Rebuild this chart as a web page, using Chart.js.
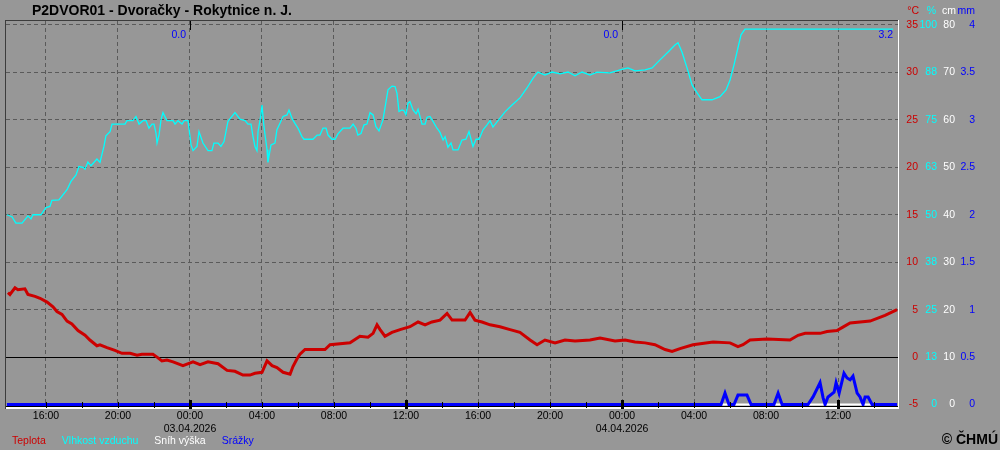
<!DOCTYPE html>
<html>
<head>
<meta charset="utf-8">
<script src="https://cdn.jsdelivr.net/npm/chart.js@4.4.1/dist/chart.umd.min.js"></script>
<style>
  html, body { margin:0; padding:0; background:#979797; overflow:hidden; }
  #wrap { position:relative; width:1000px; height:450px; }
</style>
</head>
<body>
<div id="wrap"><canvas id="chart"></canvas></div>
<script>
const stationTitle = 'P2DVOR01 - Dvoračky - Rokytnice n. J.';
const seriesNames = ['Teplota', 'Vlhkost vzduchu', 'Sníh výška', 'Srážky'];
const unitLabels = ['°C', '%', 'cm', 'mm'];

// time = hours counted from 02.04.2026 00:00
const tempHours = [13.89,14.0,14.28,14.44,14.83,15.0,15.39,15.67,16.06,16.39,16.61,16.89,17.17,17.44,17.78,18.17,18.44,18.83,19.0,19.39,19.83,20.22,20.67,21.06,21.33,21.94,22.17,22.44,22.72,23.06,23.61,24.17,24.56,25.0,25.56,26.06,26.5,26.94,27.33,27.61,28.0,28.28,28.56,28.83,29.17,29.56,29.72,29.94,30.11,30.39,31.5,31.78,32.89,33.44,33.89,34.17,34.39,34.56,34.83,35.22,35.67,36.22,36.67,37.06,37.44,37.89,38.28,38.56,39.28,39.56,39.83,40.22,40.67,41.22,41.78,42.33,42.89,43.28,43.72,44.28,44.83,45.39,46.22,46.78,47.61,48.17,48.72,49.28,49.83,50.39,50.78,51.22,51.94,53.06,54.0,54.44,54.72,55.11,56.06,57.33,57.78,58.17,59.0,59.39,59.94,60.22,60.67,61.78,62.61,63.28];
const tempValues = [6.8,6.6,7.3,7.1,7.2,6.6,6.4,6.2,5.8,5.3,4.8,4.5,3.8,3.5,2.8,2.3,1.8,1.2,1.3,1.0,0.7,0.4,0.4,0.2,0.3,0.3,0.0,-0.4,-0.3,-0.5,-0.9,-0.5,-0.8,-0.5,-0.7,-1.4,-1.5,-1.9,-1.9,-1.7,-1.6,-0.4,-0.9,-1.1,-1.6,-1.8,-1.0,-0.2,0.3,0.8,0.8,1.3,1.5,2.2,2.1,2.5,3.4,2.9,2.2,2.6,2.9,3.2,3.7,3.4,3.7,3.9,4.6,3.9,3.9,4.7,3.9,3.7,3.4,3.2,2.9,2.6,1.8,1.3,1.8,1.5,1.8,1.7,1.8,2.0,1.7,1.8,1.6,1.5,1.3,0.8,0.6,0.9,1.3,1.6,1.5,1.1,1.3,1.8,1.9,1.8,2.3,2.5,2.5,2.7,2.8,3.1,3.6,3.8,4.4,5.0];

const humHours = [13.83,14.11,14.33,14.67,15.0,15.17,15.28,15.72,16.0,16.22,16.33,16.72,17.17,17.39,17.67,17.83,18.06,18.17,18.33,18.5,18.83,19.0,19.22,19.33,19.56,19.67,20.39,20.5,20.83,21.0,21.17,21.39,21.56,21.72,21.89,22.0,22.11,22.17,22.28,22.39,22.5,22.72,23.06,23.17,23.33,23.56,23.67,23.89,24.06,24.17,24.39,24.5,24.72,25.0,25.22,25.33,25.56,25.72,25.89,26.11,26.33,26.5,26.78,27.06,27.22,27.39,27.5,27.61,27.72,27.78,27.94,28.0,28.11,28.28,28.33,28.5,28.72,28.83,29.0,29.17,29.39,29.5,29.67,29.83,30.0,30.22,30.33,30.83,31.06,31.22,31.39,31.56,31.67,31.89,32.06,32.22,32.5,32.89,33.06,33.22,33.33,33.5,33.67,33.83,34.0,34.17,34.33,34.5,34.72,34.89,35.0,35.22,35.39,35.5,35.61,35.78,35.89,36.0,36.11,36.22,36.39,36.56,36.67,36.89,37.06,37.17,37.33,37.5,37.72,37.89,38.06,38.17,38.33,38.5,38.61,38.89,39.11,39.33,39.5,39.72,39.89,40.06,40.28,40.5,40.67,40.83,41.11,41.5,41.89,42.33,42.72,43.06,43.33,43.72,44.11,44.56,45.0,45.39,45.78,46.22,46.61,47.33,47.89,48.33,48.72,49.28,49.67,50.11,50.56,50.94,51.11,51.33,51.61,51.89,52.17,52.44,53.0,53.44,53.78,54.0,54.22,54.44,54.61,54.83,63.06];
const humValues = [50,49.5,47.8,47.8,49.7,48.9,50,50,51.9,52.2,53.8,53.9,56.6,58.8,60.5,62.7,62.5,62,63.9,62.9,64.7,63.8,68,70.8,71.9,73.9,73.9,74.8,74.8,75.9,73.9,74.8,74.8,72.8,73.9,73.9,71.6,68.9,71,75,76.9,74.8,74.8,73.9,74.8,73.9,74.8,74.8,68.4,66.9,68,71.9,68.9,66.9,66.9,68.9,68.9,68,69.3,74.6,75.9,76.9,75.2,74.8,73.9,73.9,70.6,68,66.9,71.9,76.3,78.9,73.2,67.1,63.8,68.4,68.9,72.4,74.1,75.9,76.3,77.6,75.4,74.1,72.8,70.6,69.9,69.9,71,71,72.8,72.8,71,69.9,69.9,71.3,72.8,72.8,73.9,72.8,71,71.4,73.7,73.9,76.9,76.3,73.2,72.1,75,79.8,82.9,83.9,83.8,82,77.2,77.6,77.4,76.3,79.4,79.8,77.6,76.6,77.8,73.9,73.9,75.7,75.9,74.6,72.8,71.7,69.7,70.6,67.8,68.9,67.1,67.1,69.7,69.9,71.9,68,69.9,69.9,72.4,73.7,74.8,73.1,74.8,77.1,78.9,80.8,83.4,86,87.6,86.8,87.6,87.1,87.6,86.6,87.6,86.8,87.6,87.4,88.2,88.7,87.9,88.2,88.7,90.8,92.9,94.7,95.3,92.9,88.7,84.2,82.1,80.3,80.3,81.1,82.9,85.5,89.5,94,97.4,98.9,98.9];

const snowHours = [13.83, 63.28];
const snowValues = [0, 0];

const rainHours = [13.83,53.5,53.72,53.94,54.22,54.44,54.94,55.17,56.44,56.67,56.89,58.33,58.61,59.0,59.17,59.28,59.44,59.78,59.89,60.06,60.33,60.5,60.67,60.83,61.06,61.22,61.39,61.5,61.67,61.89,63.28];
const rainValues = [0,0,0.12,0,0,0.1,0.1,0,0,0.12,0,0,0.08,0.23,0.07,0,0.08,0.13,0.23,0.12,0.33,0.28,0.26,0.3,0.12,0.08,0,0.08,0.08,0,0];

// axis ticks
const tempTicks = [-5, 0, 5, 10, 15, 20, 25, 30, 35];
const humTicks = [0, 12.5, 25, 37.5, 50, 62.5, 75, 87.5, 100];
const snowTicks = [0, 10, 20, 30, 40, 50, 60, 70, 80];
const rainTicks = [0, 0.5, 1, 1.5, 2, 2.5, 3, 3.5, 4];
const timeTickHours = [16,18,20,22,24,26,28,30,32,34,36,38,40,42,44,46,48,50,52,54,56,58,60,62];
const dayStartHours = [24, 48];
const dayLabels = ['03.04.2026', '04.04.2026'];
const dailySumHours = [24, 48, 63.33];
const dailySums = ['0.0', '0.0', '3.2'];

const colors = ['#cc0000', '#00ffff', '#ffffff', '#0000ff'];
const FONT = '"Liberation Sans", Arial, sans-serif';

// temperature axis range; the other axes are scaled to share its pixels
const tMin = -5.47, tMax = 35.42;

function pts(hours, values){
  return hours.map((h, i) => ({ x: h, y: values[i] }));
}
function hhmm(v){
  const h = ((v % 24) + 24) % 24;
  return (h < 10 ? '0' : '') + h + ':00';
}
function setTicks(list){
  return s => { s.ticks = list.map(v => ({ value: v })); };
}

function rightAxis(color, min, max, list, width, fmt){
  return {
    position: 'right',
    min, max, bounds: 'data',
    grid: { display: false },
    border: { display: false },
    afterBuildTicks: setTicks(list),
    ticks: {
      color, padding: 0, crossAlign: 'far',
      font: { family: FONT, size: 10.5 },
      callback: fmt || (v => String(v))
    },
    afterFit: s => { s.width = width; }
  };
}

const overlay = {
  id: 'overlay',
  beforeDatasetsDraw(chart){
    const { ctx, chartArea: a, scales } = chart;
    const y0 = Math.round(scales.y.getPixelForValue(0)) + 0.5;
    ctx.save();
    ctx.strokeStyle = '#000';
    ctx.lineWidth = 1;
    ctx.beginPath(); ctx.moveTo(a.left, y0); ctx.lineTo(a.right, y0); ctx.stroke();
    ctx.restore();
  },
  afterDatasetsDraw(chart){
    const { ctx, chartArea: a, scales } = chart;
    const xs = scales.x;
    ctx.save();
    // frame
    ctx.fillStyle = '#000';
    ctx.fillRect(a.left, a.bottom - 3, a.right - a.left, 1);
    ctx.fillStyle = '#ffffff';
    ctx.fillRect(a.left, a.bottom - 2, a.right - a.left, 2);
    ctx.fillRect(a.right, a.top - 1, 1, a.bottom - a.top + 1);
    ctx.fillStyle = '#3c3c3c';
    ctx.fillRect(a.left - 1, a.top - 1, a.right - a.left + 1, 1);
    ctx.fillRect(a.left - 1, a.top - 1, 1, a.bottom - a.top + 1);
    // time ticks along the bottom
    ctx.fillStyle = '#000';
    timeTickHours.forEach(h => {
      const x = Math.round(xs.getPixelForValue(h));
      if (h % 12 === 0) ctx.fillRect(x - 1, a.bottom - 9, 3, 9);
      else ctx.fillRect(x, a.bottom - 7, 1, 6);
    });
    dayStartHours.forEach(h => {
      const x = Math.round(xs.getPixelForValue(h));
      ctx.fillRect(x, a.top, 1, 9);
    });
    // daily precipitation sums
    ctx.font = '10.5px ' + FONT;
    ctx.fillStyle = '#0000ff';
    ctx.textAlign = 'right';
    ctx.textBaseline = 'middle';
    dailySumHours.forEach((h, i) => {
      const x = Math.min(xs.getPixelForValue(h), a.right - 1) - 4;
      ctx.fillText(dailySums[i], x, a.top + 14);
    });
    ctx.restore();
  },
  afterDraw(chart){
    const { ctx } = chart;
    ctx.save();
    ctx.textBaseline = 'middle';
    // title
    ctx.font = 'bold 14px ' + FONT;
    ctx.fillStyle = '#000';
    ctx.textAlign = 'left';
    ctx.fillText(stationTitle, 32, 11);
    // unit headers
    ctx.font = '10.5px ' + FONT;
    const unitRight = [919, 936, 956, 975];
    ctx.textAlign = 'right';
    unitLabels.forEach((u, i) => {
      ctx.fillStyle = colors[i];
      ctx.fillText(u, unitRight[i], 11);
    });
    // legend
    ctx.textAlign = 'left';
    let lx = 12;
    chart.data.datasets.forEach(ds => {
      ctx.fillStyle = ds.borderColor;
      ctx.fillText(ds.label, lx, 441);
      lx += ctx.measureText(ds.label).width + 16;
    });
    // copyright
    ctx.font = 'bold 14px ' + FONT;
    ctx.fillStyle = '#000';
    ctx.textAlign = 'right';
    ctx.fillText('© ČHMÚ', 998, 440);
    ctx.restore();
  }
};

new Chart(document.getElementById('chart'), {
  type: 'line',
  data: {
    datasets: [
      { label: seriesNames[0], data: pts(tempHours, tempValues), yAxisID: 'y',
        borderColor: colors[0], borderWidth: 3, order: 1 },
      { label: seriesNames[1], data: pts(humHours, humValues), yAxisID: 'yHum',
        borderColor: colors[1], borderWidth: 1.3, order: 2 },
      { label: seriesNames[2], data: pts(snowHours, snowValues), yAxisID: 'ySnow',
        borderColor: colors[2], borderWidth: 2, order: 3 },
      { label: seriesNames[3], data: pts(rainHours, rainValues), yAxisID: 'yRain',
        borderColor: colors[3], borderWidth: 3, order: 0 }
    ]
  },
  options: {
    responsive: true,
    maintainAspectRatio: false,
    animation: false,
    layout: { padding: { left: 6, top: 21, right: 25, bottom: 16 } },
    elements: { point: { radius: 0 }, line: { tension: 0, fill: false } },
    plugins: { legend: { display: false }, tooltip: { enabled: false } },
    scales: {
      x: {
        type: 'linear', position: 'bottom',
        min: 13.78, max: 63.33, bounds: 'data',
        afterBuildTicks: setTicks(timeTickHours),
        grid: {
          drawTicks: false,
          color: c => (c.tick && c.tick.value % 4 === 0) ? '#5a5a5a' : 'rgba(0,0,0,0)'
        },
        border: { display: false, dash: [4, 3] },
        ticks: {
          autoSkip: false, maxRotation: 0,
          color: '#000', padding: 1,
          font: { family: FONT, size: 10.5, lineHeight: 1.24 },
          callback: v => {
            if (v % 4 !== 0) return '';
            const d = dayStartHours.indexOf(v);
            return d >= 0 ? [hhmm(v), dayLabels[d]] : hhmm(v);
          }
        },
        afterFit: s => { s.height = 25; }
      },
      y: {
        position: 'right',
        min: tMin, max: tMax, bounds: 'data',
        afterBuildTicks: setTicks(tempTicks),
        grid: {
          drawTicks: false,
          color: c => (c.tick && c.tick.value > 0) ? '#5a5a5a' : 'rgba(0,0,0,0)'
        },
        border: { display: false, dash: [4, 3] },
        ticks: {
          color: colors[0], padding: 0, crossAlign: 'far',
          font: { family: FONT, size: 10.5 }
        },
        afterFit: s => { s.width = 20; }
      },
      yHum: rightAxis(colors[1], (tMin + 5) * 2.5, (tMax + 5) * 2.5, humTicks, 19, v => String(Math.round(v))),
      ySnow: rightAxis(colors[2], (tMin + 5) * 2, (tMax + 5) * 2, snowTicks, 18),
      yRain: rightAxis(colors[3], (tMin + 5) / 10, (tMax + 5) / 10, rainTicks, 20)
    }
  },
  plugins: [overlay]
});
</script>
</body>
</html>
